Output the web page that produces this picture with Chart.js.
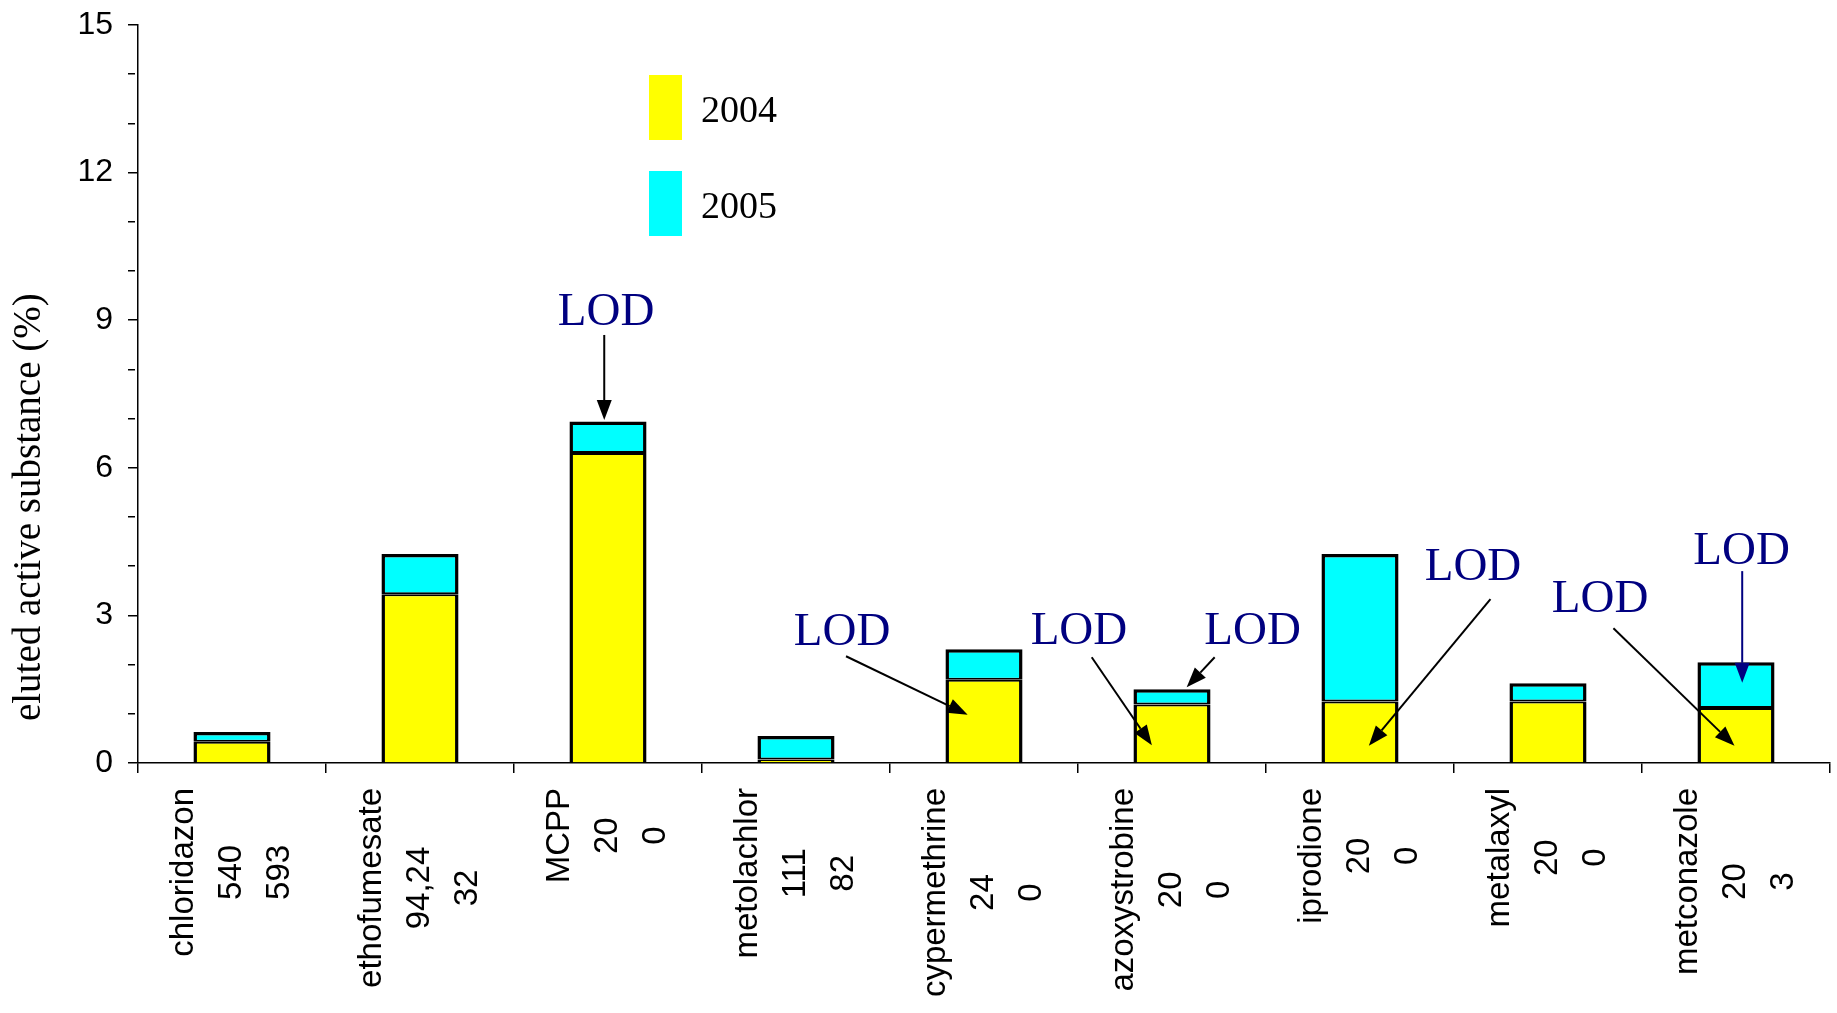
<!DOCTYPE html>
<html><head><meta charset="utf-8">
<script src="https://cdn.jsdelivr.net/npm/chart.js@4.4.0/dist/chart.umd.min.js"></script>
<style>html,body{margin:0;padding:0;background:#fff;} canvas{display:block;}</style>
</head><body>
<canvas id="c" width="1837" height="1013"></canvas>
<script>
// ---- data ----
const categories = ['chloridazon','ethofumesate','MCPP','metolachlor','cypermethrine','azoxystrobine','iprodione','metalaxyl','metconazole'];
const doses2004 = ['540','94,24','20','111','24','20','20','20','20'];
const doses2005 = ['593','32','0','82','0','0','0','0','3'];
const values2004 = [0.43, 3.43, 6.30, 0.07, 1.69, 1.19, 1.25, 1.25, 1.12];
const values2005 = [0.20, 0.82, 0.64, 0.48, 0.62, 0.31, 3.00, 0.37, 0.93];
const yTickLabels = ['0','3','6','9','12','15'];
const seriesNames = ['2004','2005'];
const yTitle = 'eluted active substance (%)';
const lodText = 'LOD';

// annotation anchors in data space: [category index (float), value]
const lodNotes = [
  {text:[1.99, 9.19], from:[1.98, 8.70], to:[1.98, 6.97], color:'#000000'},
  {text:[3.245, 2.70], from:[3.266, 2.17], to:[3.913, 0.98], color:'#000000'},
  {text:[4.505, 2.72], from:[4.573, 2.15], to:[4.893, 0.36], color:'#000000'},
  {text:[5.429, 2.72], from:[5.227, 2.15], to:[5.078, 1.54], color:'#000000'},
  {text:[6.601, 4.02], from:[6.694, 3.33], to:[6.047, 0.35], color:'#000000'},
  {text:[7.277, 3.37], from:[7.348, 2.74], to:[7.992, 0.35], color:'#000000'},
  {text:[8.03, 4.34], from:[8.033, 3.90], to:[8.033, 1.63], color:'#000080'}
];

const xLabelLines = categories.map((c,i)=>[c, doses2004[i], doses2005[i]]);

function arrow(ctx, x1, y1, x2, y2, color){
  const ang = Math.atan2(y2-y1, x2-x1);
  const hl = 20, hw = 7.5;
  const bx = x2 - hl*Math.cos(ang), by = y2 - hl*Math.sin(ang);
  ctx.save();
  ctx.strokeStyle = color; ctx.fillStyle = color; ctx.lineWidth = 2;
  ctx.beginPath(); ctx.moveTo(x1,y1); ctx.lineTo(bx,by); ctx.stroke();
  ctx.beginPath();
  ctx.moveTo(x2,y2);
  ctx.lineTo(bx + hw*Math.sin(ang), by - hw*Math.cos(ang));
  ctx.lineTo(bx - hw*Math.sin(ang), by + hw*Math.cos(ang));
  ctx.closePath(); ctx.fill();
  ctx.restore();
}

const extras = {
  id:'extras',
  afterDraw(chart){
    const ctx = chart.ctx, xs = chart.scales.x, ys = chart.scales.y;
    const xp = v => xs.left + (v + 0.5) * (xs.width / categories.length);
    // x labels (rotated, centered multi-line)
    ctx.save();
    ctx.font = '33px "Liberation Sans", Arial, sans-serif';
    ctx.fillStyle = '#000';
    ctx.textAlign = 'center'; ctx.textBaseline = 'middle';
    const lh = 48;
    xLabelLines.forEach((lines,i)=>{
      const x = xs.getPixelForValue(i);
      const maxW = Math.max(...lines.map(l=>ctx.measureText(l).width));
      const d = 25 + maxW/2;
      ctx.save();
      ctx.translate(x, ys.bottom);
      ctx.rotate(-Math.PI/2);
      lines.forEach((l,k)=>{
        ctx.fillText(l, -d, (k - (lines.length-1)/2) * lh);
      });
      ctx.restore();
    });
    ctx.restore();
    // y title
    ctx.save();
    ctx.font = '39px "Liberation Serif", "Times New Roman", serif';
    ctx.fillStyle = '#000'; ctx.textAlign = 'center'; ctx.textBaseline = 'middle';
    ctx.translate(30, ys.getPixelForValue(5.2));
    ctx.rotate(-Math.PI/2);
    ctx.fillText(yTitle, 0, 0);
    ctx.restore();
    // legend
    ctx.save();
    const ds = chart.data.datasets;
    ctx.font = '38px "Liberation Serif", "Times New Roman", serif';
    ctx.textAlign = 'left'; ctx.textBaseline = 'middle';
    [[75,110],[171,206]].forEach((p,k)=>{
      ctx.fillStyle = ds[k].backgroundColor;
      ctx.fillRect(649, p[0], 33, 65);
      ctx.fillStyle = '#000';
      ctx.fillText(ds[k].label, 701, p[1]+2);
    });
    ctx.restore();
    // LOD annotations
    ctx.save();
    ctx.font = '47px "Liberation Serif", "Times New Roman", serif';
    ctx.textAlign = 'center'; ctx.textBaseline = 'middle';
    lodNotes.forEach(n=>{
      ctx.fillStyle = '#000080';
      ctx.fillText(lodText, xp(n.text[0]), ys.getPixelForValue(n.text[1]) + 2);
      arrow(ctx, xp(n.from[0]), ys.getPixelForValue(n.from[1]), xp(n.to[0]), ys.getPixelForValue(n.to[1]), n.color);
    });
    ctx.restore();
  }
};

new Chart(document.getElementById('c'), {
  type:'bar',
  data:{
    labels: categories,
    datasets:[
      {label:seriesNames[0], data:values2004, backgroundColor:'#ffff00', borderColor:'#000',
       borderWidth:{left:3.5, right:3.5, top:2, bottom:0}, borderSkipped:false},
      {label:seriesNames[1], data:values2005, backgroundColor:'#00ffff', borderColor:'#000',
       borderWidth:{left:3.5, right:3.5, top:3.5, bottom:2}, borderSkipped:false}
    ]
  },
  options:{
    responsive:false, animation:false, devicePixelRatio:1,
    layout:{padding:{top:25, right:7, left:0, bottom:0}},
    datasets:{bar:{categoryPercentage:1, barPercentage:0.41}},
    plugins:{legend:{display:false}, tooltip:{enabled:false}},
    scales:{
      x:{
        stacked:true,
        grid:{offset:true, drawOnChartArea:false, drawTicks:true, tickLength:10, color:'#000', lineWidth:1.5},
        border:{display:true, color:'#000', width:1.5},
        ticks:{display:false},
        afterFit(s){ s.height = 250; s.paddingLeft = 0; s.paddingRight = 0; }
      },
      y:{
        stacked:true, min:0, max:15,
        grid:{drawOnChartArea:false, drawTicks:true, tickLength:10, color:'#000', lineWidth:1.5,
              tickBorderDash:(c)=> (c.tick && c.tick.value % 3 !== 0) ? [7, 40] : []},
        border:{display:true, color:'#000', width:1.5},
        ticks:{stepSize:1, autoSkip:false, padding:15, color:'#000',
          font:{family:'"Liberation Sans", Arial, sans-serif', size:32},
          callback:(v)=> yTickLabels.includes(String(v)) ? String(v) : ''},
        afterFit(s){ s.width = 138; s.paddingTop = 0; s.paddingBottom = 0; }
      }
    }
  },
  plugins:[extras]
});
</script>
</body></html>
